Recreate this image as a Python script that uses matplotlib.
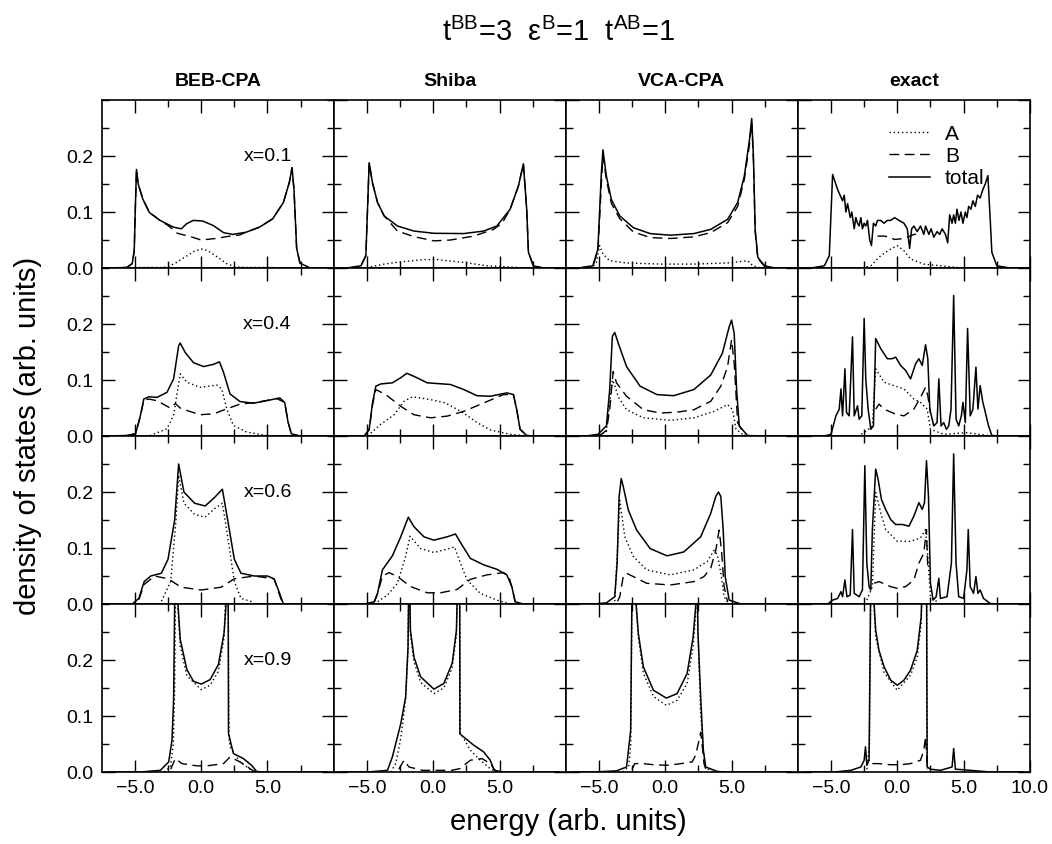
import matplotlib
matplotlib.use("Agg")
import matplotlib.pyplot as plt
import numpy as np
from matplotlib.ticker import MultipleLocator, FixedLocator

plt.rcParams["font.family"] = ["Liberation Sans", "DejaVu Sans"]
plt.rcParams["mathtext.fontset"] = "custom"
plt.rcParams["mathtext.rm"] = "Liberation Sans"
plt.rcParams["mathtext.it"] = "Liberation Sans:italic"

methods = ["BEB-CPA", "Shiba", "VCA-CPA", "exact"]
concentrations = ["x=0.1", "x=0.4", "x=0.6", "x=0.9"]
xtick_labels = ["\u22125.0", "0.0", "5.0"]
ytick_labels = ["0.0", "0.1", "0.2"]

# (energy, dos) pairs; A = dotted, B = dashed, total = solid
# ---- x = 0.1 ----
beb1_tot = [(-7.0, 0), (-5.6, 0.001), (-5.2, 0.008), (-5.05, 0.03), (-4.95, 0.12), (-4.88, 0.176),
            (-4.75, 0.15), (-4.4, 0.123), (-3.9, 0.099), (-3.1, 0.085), (-2.1, 0.073), (-1.5, 0.07),
            (-1.1, 0.079), (-0.6, 0.085), (0.1, 0.084), (0.9, 0.076), (1.7, 0.063), (2.4, 0.06),
            (3.4, 0.064), (4.4, 0.073), (5.4, 0.088), (6.2, 0.117), (6.65, 0.153), (6.85, 0.179),
            (7.0, 0.14), (7.2, 0.035), (7.45, 0.009), (8.2, 0), (9.5, 0)]
beb1_b = [(-7.0, 0), (-5.6, 0.001), (-5.2, 0.008), (-5.05, 0.03), (-4.95, 0.12), (-4.88, 0.176),
          (-4.75, 0.15), (-4.4, 0.123), (-3.9, 0.099), (-3.1, 0.085), (-2.5, 0.076), (-1.8, 0.062),
          (-0.8, 0.056), (0.0, 0.05), (1.2, 0.053), (1.9, 0.056), (2.9, 0.059), (3.4, 0.064),
          (4.4, 0.073), (5.4, 0.088), (6.2, 0.117), (6.65, 0.153), (6.85, 0.179), (7.0, 0.14),
          (7.2, 0.035), (7.45, 0.009), (8.2, 0)]
beb1_a = [(-5.0, 0.001), (-3.0, 0.001), (-2.6, 0.002), (-2.0, 0.008), (-1.2, 0.02), (-0.5, 0.03),
          (0.0, 0.034), (0.5, 0.031), (1.2, 0.02), (1.9, 0.008), (2.6, 0.002), (3.5, 0.001), (5.5, 0.001)]

shiba1_tot = [(-7.0, 0), (-6.45, 0), (-5.45, 0.004), (-5.08, 0.022), (-4.83, 0.188), (-4.58, 0.152),
              (-4.2, 0.117), (-3.7, 0.093), (-2.7, 0.075), (-1.45, 0.066), (0.05, 0.062), (2.3, 0.0615),
              (3.8, 0.066), (4.8, 0.075), (5.8, 0.105), (6.42, 0.146), (6.8, 0.186), (7.05, 0.105),
              (7.18, 0.028), (7.55, 0.004), (8.3, 0), (9.5, 0)]
shiba1_b = [(-6.45, 0), (-5.45, 0.004), (-5.08, 0.022), (-4.83, 0.188), (-4.58, 0.152), (-4.2, 0.117),
            (-3.7, 0.093), (-2.7, 0.066), (-1.45, 0.056), (0.05, 0.0485), (1.3, 0.05), (3.05, 0.057),
            (4.55, 0.069), (5.2, 0.08), (5.8, 0.105), (6.42, 0.146), (6.8, 0.186), (7.05, 0.105),
            (7.18, 0.028), (7.55, 0.004), (8.3, 0)]
shiba1_a = [(-5.0, 0), (-4.95, 0.001), (-3.7, 0.007), (-2.45, 0.011), (-0.7, 0.015), (0.3, 0.015),
            (2.3, 0.01), (4.05, 0.004), (6.3, 0.001), (7.0, 0)]

vca1_tot = [(-7.0, 0), (-6.47, 0), (-5.46, 0.004), (-5.08, 0.034), (-4.82, 0.17), (-4.7, 0.211),
            (-4.44, 0.164), (-4.06, 0.122), (-3.43, 0.093), (-2.41, 0.072), (-1.14, 0.0615),
            (0.38, 0.0586), (2.16, 0.0615), (3.43, 0.069), (4.7, 0.087), (5.46, 0.117), (5.96, 0.164),
            (6.35, 0.229), (6.52, 0.267), (6.65, 0.199), (6.78, 0.069), (6.98, 0.019), (7.49, 0.004),
            (8.25, 0), (9.5, 0)]
vca1_b = [(-6.47, 0), (-5.46, 0.004), (-5.08, 0.03), (-4.82, 0.15), (-4.7, 0.2), (-4.44, 0.158),
          (-4.06, 0.115), (-3.43, 0.088), (-2.41, 0.0645), (-1.14, 0.0544), (0.38, 0.0527),
          (2.16, 0.0556), (3.43, 0.0633), (4.7, 0.081), (5.46, 0.11), (5.96, 0.158), (6.35, 0.22),
          (6.52, 0.26), (6.65, 0.19), (6.78, 0.065), (6.98, 0.017), (7.49, 0.003), (8.25, 0)]
vca1_a = [(-6.0, 0), (-5.46, 0.002), (-5.2, 0.01), (-4.95, 0.04), (-4.7, 0.025), (-4.19, 0.013),
          (-2.92, 0.009), (-0.38, 0.007), (2.16, 0.007), (4.7, 0.009), (6.22, 0.013), (6.6, 0.004),
          (7.2, 0)]

ex1_tot = [(-7.0, 0), (-6.5, 0), (-5.5, 0.004), (-5.13, 0.022), (-4.88, 0.167), (-4.5, 0.14),
           (-4.13, 0.12), (-4.0, 0.13), (-3.88, 0.1), (-3.75, 0.115), (-3.55, 0.09), (-3.43, 0.1),
           (-3.25, 0.07), (-3.13, 0.09), (-3.0, 0.08), (-2.88, 0.075), (-2.75, 0.09), (-2.63, 0.07),
           (-2.5, 0.08), (-2.38, 0.075), (-2.25, 0.085), (-2.08, 0.05), (-1.95, 0.04), (-1.8, 0.08),
           (-1.63, 0.075), (-1.5, 0.085), (-1.25, 0.085), (-1.0, 0.08), (-0.75, 0.085), (-0.5, 0.085),
           (-0.2, 0.09), (0.13, 0.085), (0.5, 0.08), (0.75, 0.07), (0.93, 0.035), (1.08, 0.07),
           (1.25, 0.075), (1.5, 0.065), (1.75, 0.075), (2.0, 0.06), (2.13, 0.075), (2.38, 0.06),
           (2.55, 0.07), (2.75, 0.055), (3.0, 0.065), (3.2, 0.06), (3.38, 0.07), (3.63, 0.06),
           (3.8, 0.045), (3.95, 0.095), (4.13, 0.08), (4.25, 0.095), (4.38, 0.08), (4.5, 0.105),
           (4.65, 0.085), (4.8, 0.1), (4.95, 0.08), (5.13, 0.1), (5.25, 0.09), (5.38, 0.11),
           (5.55, 0.105), (5.7, 0.12), (5.88, 0.11), (6.05, 0.13), (6.25, 0.125), (6.45, 0.14),
           (6.63, 0.15), (6.83, 0.165), (7.0, 0.09), (7.13, 0.028), (7.5, 0.004), (8.5, 0), (9.5, 0)]
ex1_b = [(-1.5, 0.057), (-1.0, 0.057), (-0.5, 0.055), (-0.25, 0.051), (0.25, 0.052), (0.75, 0.055),
         (1.25, 0.06), (1.75, 0.06)]
ex1_a = [(-3.25, 0), (-2.5, 0.001), (-2.0, 0.004), (-1.25, 0.022), (-0.5, 0.034), (0.0, 0.04),
         (0.5, 0.031), (1.0, 0.016), (2.0, 0.007), (3.25, 0.004), (4.5, 0.001), (5.0, 0)]

# ---- x = 0.4 ----
beb4_tot = [(-7.0, 0), (-5.58, 0.001), (-4.95, 0.004), (-4.58, 0.037), (-4.33, 0.066), (-3.95, 0.07),
            (-3.33, 0.069), (-2.58, 0.078), (-2.08, 0.102), (-1.7, 0.161), (-1.58, 0.166), (-1.2, 0.149),
            (-0.58, 0.131), (0.18, 0.124), (0.93, 0.128), (1.38, 0.1325), (1.68, 0.114), (2.18, 0.075),
            (2.93, 0.0615), (3.93, 0.0586), (4.93, 0.063), (5.93, 0.068), (6.3, 0.06), (6.55, 0.025),
            (6.8, 0.004), (7.43, 0), (9.5, 0)]
beb4_b = [(-5.58, 0.001), (-4.95, 0.004), (-4.58, 0.035), (-4.33, 0.064), (-3.95, 0.066),
          (-3.33, 0.063), (-2.33, 0.05), (-1.95, 0.058), (-1.58, 0.05), (-1.08, 0.0456), (-0.08, 0.038),
          (0.93, 0.0396), (1.93, 0.0485), (2.93, 0.057), (4.18, 0.06), (5.68, 0.067), (6.3, 0.06),
          (6.55, 0.025), (6.8, 0.004), (7.43, 0)]
beb4_a = [(-4.5, 0), (-3.83, 0.001), (-2.58, 0.013), (-2.08, 0.037), (-1.58, 0.111), (-1.08, 0.096),
          (-0.08, 0.087), (1.18, 0.091), (1.55, 0.084), (1.93, 0.0485), (2.43, 0.019), (3.43, 0.007),
          (4.93, 0.001), (5.5, 0)]

shiba4_tot = [(-7.0, 0), (-5.2, 0), (-4.83, 0.012), (-4.58, 0.059), (-4.33, 0.089), (-3.95, 0.093),
              (-3.08, 0.095), (-2.45, 0.104), (-2.0, 0.112), (-1.45, 0.1065), (-0.45, 0.095), (1.3, 0.092),
              (2.3, 0.083), (3.3, 0.072), (4.3, 0.071), (5.55, 0.077), (6.05, 0.074), (6.3, 0.047),
              (6.55, 0.012), (7.05, 0.001), (7.55, 0), (9.5, 0)]
shiba4_b = [(-5.2, 0), (-4.83, 0.011), (-4.58, 0.055), (-4.33, 0.083), (-3.58, 0.074), (-2.45, 0.053),
            (-1.45, 0.038), (-0.2, 0.0325), (1.05, 0.0355), (2.3, 0.044), (3.8, 0.059), (5.3, 0.074),
            (6.05, 0.074), (6.3, 0.047), (6.55, 0.012), (7.05, 0.001)]
shiba4_a = [(-4.95, 0), (-3.95, 0.021), (-2.95, 0.038), (-2.2, 0.062), (-1.58, 0.07), (-0.2, 0.065),
            (0.93, 0.059), (2.3, 0.041), (3.3, 0.024), (4.3, 0.011), (5.8, 0.003), (7.3, 0)]

vca4_tot = [(-7.0, 0), (-5.97, 0), (-5.08, 0.003), (-4.44, 0.018), (-4.19, 0.083), (-3.99, 0.178),
            (-3.81, 0.185), (-3.55, 0.166), (-2.92, 0.124), (-1.9, 0.089), (-0.63, 0.074), (0.63, 0.072),
            (2.16, 0.083), (3.43, 0.109), (4.31, 0.148), (4.82, 0.195), (5.0, 0.207), (5.2, 0.183),
            (5.38, 0.083), (5.58, 0.018), (6.2, 0.001), (7.2, 0), (9.5, 0)]
vca4_b = [(-5.0, 0), (-4.44, 0.01), (-4.19, 0.047), (-3.93, 0.115), (-3.68, 0.095), (-2.92, 0.071),
          (-1.65, 0.047), (-0.38, 0.041), (0.89, 0.0426), (2.16, 0.047), (3.43, 0.062), (4.19, 0.089),
          (4.7, 0.124), (5.0, 0.172), (5.2, 0.13), (5.46, 0.024), (6.0, 0.001)]
vca4_a = [(-5.0, 0), (-4.44, 0.008), (-4.19, 0.06), (-3.99, 0.1), (-3.81, 0.09), (-3.55, 0.07),
          (-2.92, 0.047), (-1.65, 0.0325), (0.38, 0.028), (2.16, 0.0325), (3.68, 0.044), (4.7, 0.056),
          (5.08, 0.047), (5.33, 0.012), (6.0, 0)]

ex4_tot = [(-7.0, 0), (-5.5, 0), (-5.0, 0.003), (-4.63, 0.036), (-4.38, 0.048), (-4.25, 0.084),
           (-4.13, 0.036), (-3.95, 0.12), (-3.83, 0.042), (-3.63, 0.036), (-3.38, 0.177), (-3.25, 0.036),
           (-3.0, 0.054), (-2.88, 0.03), (-2.68, 0.036), (-2.5, 0.21), (-2.38, 0.102), (-2.2, 0.048),
           (-2.0, 0.012), (-1.8, 0.018), (-1.63, 0.174), (-1.25, 0.156), (-0.75, 0.138), (-0.38, 0.138),
           (-0.13, 0.141), (0.25, 0.126), (0.63, 0.117), (1.0, 0.102), (1.38, 0.129), (1.63, 0.138),
           (1.88, 0.126), (2.13, 0.163), (2.3, 0.138), (2.45, 0.048), (2.75, 0.018), (3.0, 0.024),
           (3.13, 0.102), (3.3, 0.018), (3.5, 0.024), (3.7, 0.012), (3.88, 0.018), (4.05, 0.048),
           (4.25, 0.251), (4.43, 0.03), (4.63, 0.018), (4.83, 0.036), (4.95, 0.06), (5.13, 0.024),
           (5.3, 0.192), (5.5, 0.036), (5.7, 0.048), (5.93, 0.123), (6.08, 0.048), (6.25, 0.09),
           (6.45, 0.06), (6.58, 0.048), (6.88, 0.018), (7.13, 0.001), (7.75, 0), (9.5, 0)]
ex4_b = [(-1.63, 0.048), (-1.38, 0.057), (-1.0, 0.048), (-0.13, 0.039), (0.5, 0.036), (1.25, 0.048),
         (1.75, 0.069), (2.13, 0.087), (2.3, 0.072), (2.5, 0.042)]
ex4_a = [(-3.0, 0), (-2.5, 0.006), (-1.88, 0.018), (-1.63, 0.12), (-1.0, 0.096), (-0.25, 0.09),
         (0.5, 0.084), (1.25, 0.066), (1.75, 0.06), (2.25, 0.048), (2.5, 0.012), (3.5, 0.003),
         (5.25, 0.006), (6.5, 0.002), (7.0, 0)]

# ---- x = 0.6 ----
beb6_tot = [(-7.0, 0), (-5.2, 0), (-4.7, 0.01), (-4.3, 0.04), (-3.8, 0.05), (-3.0, 0.055), (-2.5, 0.08),
            (-2.0, 0.15), (-1.7, 0.25), (-1.3, 0.2), (-0.5, 0.18), (0.3, 0.175), (1.0, 0.19), (1.6, 0.205),
            (2.0, 0.15), (2.5, 0.08), (3.0, 0.055), (4.0, 0.05), (5.0, 0.05), (5.5, 0.045), (5.9, 0.02),
            (6.2, 0), (9.5, 0)]
beb6_b = [(-4.7, 0.008), (-4.3, 0.035), (-3.5, 0.05), (-2.5, 0.045), (-1.5, 0.03), (0.0, 0.025),
          (1.5, 0.03), (2.5, 0.045), (4.0, 0.05), (5.5, 0.045), (6.0, 0.01), (6.2, 0)]
beb6_a = [(-3.0, 0.005), (-2.3, 0.04), (-1.9, 0.15), (-1.7, 0.23), (-1.3, 0.18), (-0.5, 0.16),
          (0.3, 0.155), (1.0, 0.17), (1.6, 0.18), (2.0, 0.12), (2.5, 0.04), (3.0, 0.01), (4.0, 0.003)]

shiba6_tot = [(-7.0, 0), (-5.2, 0), (-4.45, 0.004), (-4.2, 0.019), (-3.83, 0.061), (-3.08, 0.086),
              (-2.45, 0.12), (-1.88, 0.155), (-1.45, 0.138), (-0.7, 0.12), (0.05, 0.114), (1.05, 0.12),
              (1.68, 0.125), (2.18, 0.105), (2.8, 0.0815), (3.8, 0.07), (4.8, 0.062), (5.55, 0.052),
              (5.93, 0.031), (6.18, 0.004), (6.8, 0), (9.5, 0)]
shiba6_b = [(-4.45, 0.003), (-4.2, 0.018), (-3.83, 0.05), (-3.33, 0.056), (-2.7, 0.049), (-1.7, 0.031),
            (-0.45, 0.02), (0.55, 0.02), (1.8, 0.026), (2.8, 0.044), (4.05, 0.052), (5.3, 0.056),
            (5.7, 0.05), (5.93, 0.03), (6.18, 0.004)]
shiba6_a = [(-4.45, 0), (-3.45, 0.016), (-2.7, 0.037), (-2.08, 0.085), (-1.75, 0.121), (-0.95, 0.099),
            (0.05, 0.092), (1.05, 0.098), (1.6, 0.102), (2.05, 0.073), (2.55, 0.043), (3.55, 0.019),
            (4.8, 0.007), (5.8, 0)]

vca6_tot = [(-7.0, 0), (-5.46, 0), (-4.44, 0.002), (-3.81, 0.013), (-3.63, 0.073), (-3.48, 0.192),
            (-3.32, 0.224), (-3.17, 0.21), (-2.79, 0.168), (-2.16, 0.132), (-1.14, 0.099), (0.13, 0.086),
            (1.4, 0.093), (2.67, 0.12), (3.43, 0.162), (3.81, 0.192), (4.01, 0.2), (4.19, 0.192),
            (4.37, 0.132), (4.52, 0.049), (4.82, 0.007), (5.71, 0), (9.5, 0)]
vca6_b = [(-3.6, 0.005), (-3.43, 0.013), (-3.17, 0.049), (-2.92, 0.055), (-2.41, 0.049), (-1.4, 0.037),
          (0.38, 0.034), (2.16, 0.04), (2.92, 0.049), (3.43, 0.064), (3.81, 0.096), (4.06, 0.132),
          (4.24, 0.096), (4.44, 0.031), (4.7, 0.004)]
vca6_a = [(-3.81, 0.005), (-3.6, 0.1), (-3.43, 0.185), (-3.3, 0.162), (-3.05, 0.12), (-2.41, 0.085),
          (-1.4, 0.061), (0.38, 0.052), (2.16, 0.061), (3.17, 0.076), (3.68, 0.096), (3.93, 0.088),
          (4.19, 0.055), (4.44, 0.013), (4.8, 0)]

ex6_tot = [(-7.0, 0), (-5.25, 0), (-4.88, 0.007), (-4.5, 0.01), (-4.25, 0.022), (-4.13, 0.013),
           (-3.95, 0.043), (-3.8, 0.013), (-3.55, 0.016), (-3.38, 0.133), (-3.25, 0.019), (-2.88, 0.013),
           (-2.63, 0.025), (-2.45, 0.247), (-2.3, 0.073), (-2.13, 0.031), (-2.0, 0.025), (-1.88, 0.133),
           (-1.63, 0.241), (-1.45, 0.223), (-1.2, 0.187), (-0.88, 0.169), (-0.5, 0.151), (-0.13, 0.142),
           (0.38, 0.142), (0.88, 0.139), (1.25, 0.157), (1.63, 0.181), (1.88, 0.169), (2.05, 0.181),
           (2.2, 0.256), (2.35, 0.193), (2.5, 0.037), (2.7, 0.007), (2.93, 0.013), (3.13, 0.046),
           (3.25, 0.01), (3.75, 0.013), (4.08, 0.073), (4.25, 0.268), (4.43, 0.073), (4.63, 0.013),
           (5.0, 0.01), (5.25, 0.061), (5.35, 0.133), (5.5, 0.031), (5.75, 0.019), (5.93, 0.049),
           (6.08, 0.019), (6.25, 0.025), (6.5, 0.01), (7.0, 0.001), (7.5, 0), (9.5, 0)]
ex6_b = [(-1.75, 0.037), (-1.38, 0.04), (-0.5, 0.031), (0.0, 0.028), (0.63, 0.031), (1.25, 0.043),
         (1.63, 0.073), (2.0, 0.091), (2.2, 0.133), (2.3, 0.061)]
ex6_a = [(-2.3, 0.007), (-1.88, 0.031), (-1.63, 0.199), (-1.25, 0.163), (-0.88, 0.133), (0.0, 0.112),
         (1.0, 0.112), (1.75, 0.118), (2.13, 0.133), (2.3, 0.085), (2.5, 0.013), (3.0, 0.004)]

# ---- x = 0.9 (peaks near the band edges run off the top) ----
beb9_tot = [(-7.0, 0), (-4.58, 0), (-3.08, 0.003), (-2.45, 0.018), (-2.2, 0.057), (-2.08, 0.129),
            (-2.0, 0.3), (-1.88, 0.4), (-1.75, 0.3), (-1.58, 0.237), (-1.08, 0.183), (-0.58, 0.162),
            (0.0, 0.157), (0.68, 0.165), (1.3, 0.192), (1.73, 0.249), (1.88, 0.3), (1.97, 0.4),
            (2.04, 0.3), (2.06, 0.069), (2.43, 0.033), (3.18, 0.024), (3.8, 0.012), (4.18, 0.001),
            (4.6, 0), (9.5, 0)]
beb9_b = [(-2.3, 0.005), (-1.95, 0.024), (-1.45, 0.015), (-0.33, 0.011), (0.43, 0.011), (1.68, 0.015),
          (2.18, 0.027), (2.93, 0.018), (3.93, 0.002), (4.2, 0)]
beb9_a = [(-2.8, 0), (-2.33, 0.009), (-2.1, 0.05), (-2.0, 0.15), (-1.9, 0.4), (-1.75, 0.29),
          (-1.58, 0.225), (-1.08, 0.172), (0.0, 0.147), (0.68, 0.155), (1.3, 0.18), (1.73, 0.24),
          (1.95, 0.4), (2.04, 0.3), (2.1, 0.06), (2.18, 0.045), (2.93, 0.018), (3.93, 0.001), (4.2, 0)]

shiba9_tot = [(-7.0, 0), (-4.95, 0), (-3.45, 0.003), (-3.08, 0.027), (-2.45, 0.086), (-2.08, 0.134),
              (-1.9, 0.223), (-1.82, 0.4), (-1.72, 0.253), (-1.45, 0.205), (-0.95, 0.17), (0.05, 0.148),
              (0.8, 0.158), (1.43, 0.194), (1.75, 0.253), (1.9, 0.4), (2.0, 0.3), (2.01, 0.068),
              (2.3, 0.0625), (3.05, 0.048), (3.8, 0.036), (4.3, 0.021), (4.6, 0.003), (5.3, 0), (9.5, 0)]
shiba9_b = [(-2.6, 0.005), (-2.2, 0.021), (-1.83, 0.009), (-0.8, 0.003), (0.05, 0.003), (1.4, 0.003),
            (2.0, 0.006), (2.8, 0.021), (3.68, 0.024), (4.3, 0.015), (4.7, 0.002)]
shiba9_a = [(-3.2, 0), (-2.83, 0.015), (-2.45, 0.06), (-2.08, 0.13), (-1.9, 0.22), (-1.82, 0.4),
            (-1.72, 0.245), (-1.45, 0.197), (-0.95, 0.16), (0.05, 0.14), (0.8, 0.15), (1.43, 0.186),
            (1.75, 0.245), (1.9, 0.4), (2.0, 0.3), (2.05, 0.07), (2.18, 0.065), (2.8, 0.039),
            (3.55, 0.021), (4.3, 0.006), (4.8, 0)]

vca9_tot = [(-7.0, 0), (-5.46, 0), (-3.68, 0.002), (-2.92, 0.009), (-2.61, 0.074), (-2.52, 0.3),
            (-2.36, 0.4), (-2.2, 0.3), (-2.03, 0.247), (-1.65, 0.1875), (-0.89, 0.146), (0.08, 0.132),
            (0.89, 0.14), (1.65, 0.176), (2.1, 0.241), (2.29, 0.295), (2.38, 0.4), (2.46, 0.253),
            (2.67, 0.134), (2.87, 0.039), (3.05, 0.009), (3.93, 0.001), (4.5, 0), (9.5, 0)]
vca9_b = [(-2.5, 0.005), (-2.3, 0.015), (-1.65, 0.015), (-0.89, 0.013), (0.13, 0.012), (0.89, 0.014),
          (2.03, 0.018), (2.29, 0.03), (2.55, 0.057), (2.67, 0.071), (2.8, 0.045), (2.92, 0.015),
          (3.1, 0.002)]
vca9_a = [(-3.2, 0), (-2.75, 0.01), (-2.6, 0.05), (-2.52, 0.3), (-2.36, 0.4), (-2.2, 0.3), (-2.03, 0.24),
          (-1.65, 0.176), (-0.89, 0.135), (0.08, 0.119), (0.89, 0.128), (1.65, 0.158), (2.1, 0.225),
          (2.29, 0.28), (2.38, 0.4), (2.46, 0.25), (2.67, 0.104), (2.87, 0.039), (3.05, 0.008), (3.6, 0)]

ex9_tot = [(-7.0, 0), (-4.75, 0), (-3.5, 0.003), (-2.75, 0.009), (-2.5, 0.021), (-2.4, 0.045),
           (-2.3, 0.012), (-2.13, 0.021), (-2.02, 0.3), (-1.88, 0.4), (-1.75, 0.3), (-1.63, 0.253),
           (-1.38, 0.217), (-1.0, 0.188), (-0.5, 0.164), (0.0, 0.155), (0.5, 0.164), (1.0, 0.182),
           (1.5, 0.217), (1.8, 0.277), (1.95, 0.4), (2.1, 0.3), (2.2, 0.4), (2.25, 0.009), (2.5, 0.005),
           (3.25, 0.003), (4.13, 0.009), (4.25, 0.042), (4.38, 0.005), (5.0, 0.004), (5.5, 0.003),
           (7.0, 0), (9.5, 0)]
ex9_b = [(-1.88, 0.015), (-1.38, 0.015), (-0.5, 0.013), (0.25, 0.013), (1.0, 0.015), (1.75, 0.021),
         (2.0, 0.039), (2.13, 0.063), (2.25, 0.015)]
ex9_a = [(-2.3, 0.005), (-2.1, 0.05), (-2.02, 0.29), (-1.88, 0.4), (-1.75, 0.29), (-1.63, 0.24),
         (-1.0, 0.178), (0.0, 0.146), (1.0, 0.173), (1.5, 0.205), (1.8, 0.265), (1.95, 0.4),
         (2.2, 0.4), (2.25, 0.005)]

panels = [
    [(beb1_a, beb1_b, beb1_tot), (shiba1_a, shiba1_b, shiba1_tot), (vca1_a, vca1_b, vca1_tot), (ex1_a, ex1_b, ex1_tot)],
    [(beb4_a, beb4_b, beb4_tot), (shiba4_a, shiba4_b, shiba4_tot), (vca4_a, vca4_b, vca4_tot), (ex4_a, ex4_b, ex4_tot)],
    [(beb6_a, beb6_b, beb6_tot), (shiba6_a, shiba6_b, shiba6_tot), (vca6_a, vca6_b, vca6_tot), (ex6_a, ex6_b, ex6_tot)],
    [(beb9_a, beb9_b, beb9_tot), (shiba9_a, shiba9_b, shiba9_tot), (vca9_a, vca9_b, vca9_tot), (ex9_a, ex9_b, ex9_tot)],
]

fig = plt.figure(figsize=(10.52, 8.44), dpi=100)
gs = fig.add_gridspec(4, 4, left=0.0967, right=0.979, bottom=0.0853, top=0.8815,
                      wspace=0, hspace=0)

for r in range(4):
    for c in range(4):
        ax = fig.add_subplot(gs[r, c])
        a, b, tot = (np.array(p).T for p in panels[r][c])
        ax.plot(a[0], a[1], color="black", lw=1.0, ls=(0, (1, 2)), label="A")
        ax.plot(b[0], b[1], color="black", lw=1.0, ls=(0, (7, 4)), label="B")
        ax.plot(tot[0], tot[1], color="black", lw=1.1, label="total")

        ax.set_xlim(-7.5, 10)
        ax.set_ylim(0, 0.3)
        ax.xaxis.set_major_locator(FixedLocator([-5, 0, 5, 10]))
        ax.xaxis.set_minor_locator(FixedLocator([-2.5, 2.5, 7.5]))
        ax.yaxis.set_major_locator(MultipleLocator(0.1))
        ax.yaxis.set_minor_locator(MultipleLocator(0.05))
        ax.tick_params(which="both", direction="in", top=True, right=True, width=1.0,
                       labelsize=14, pad=6)
        ax.tick_params(which="major", length=9)
        ax.tick_params(which="minor", length=5)
        for s in ax.spines.values():
            s.set_linewidth(1.2)

        if r == 3:
            ticks = [-5, 0, 5, 10] if c == 3 else [-5, 0, 5]
            ax.set_xticks(ticks)
            ax.set_xticklabels(xtick_labels + (["10.0"] if c == 3 else []))
        else:
            ax.set_xticklabels([])
        if c == 0:
            ax.set_yticks([0, 0.1, 0.2])
            ax.set_yticklabels(ytick_labels)
            ax.text(5.0, 0.2, concentrations[r], ha="center", va="center", fontsize=14)
        else:
            ax.set_yticklabels([])
        if r == 0:
            ax.set_title(methods[c], fontsize=14, fontweight="bold", pad=10)
        if r == 0 and c == 3:
            ax.legend(loc="upper left", bbox_to_anchor=(0.31, 0.965), frameon=False, fontsize=15,
                      handlelength=2.0, handletextpad=0.7, labelspacing=0.15, borderpad=0.4)

fig.text(0.531, 0.962,
         r"$\mathrm{t^{BB}}$=3  $\mathrm{\varepsilon^{B}}$=1  $\mathrm{t^{AB}}$=1",
         ha="center", va="center", fontsize=21)
fig.text(0.54, 0.026, "energy (arb. units)", ha="center", va="center", fontsize=21)
fig.text(0.027, 0.483, "density of states (arb. units)", ha="center", va="center",
         rotation=90, fontsize=21)

plt.savefig("out.png", dpi=100)
plt.close(fig)
